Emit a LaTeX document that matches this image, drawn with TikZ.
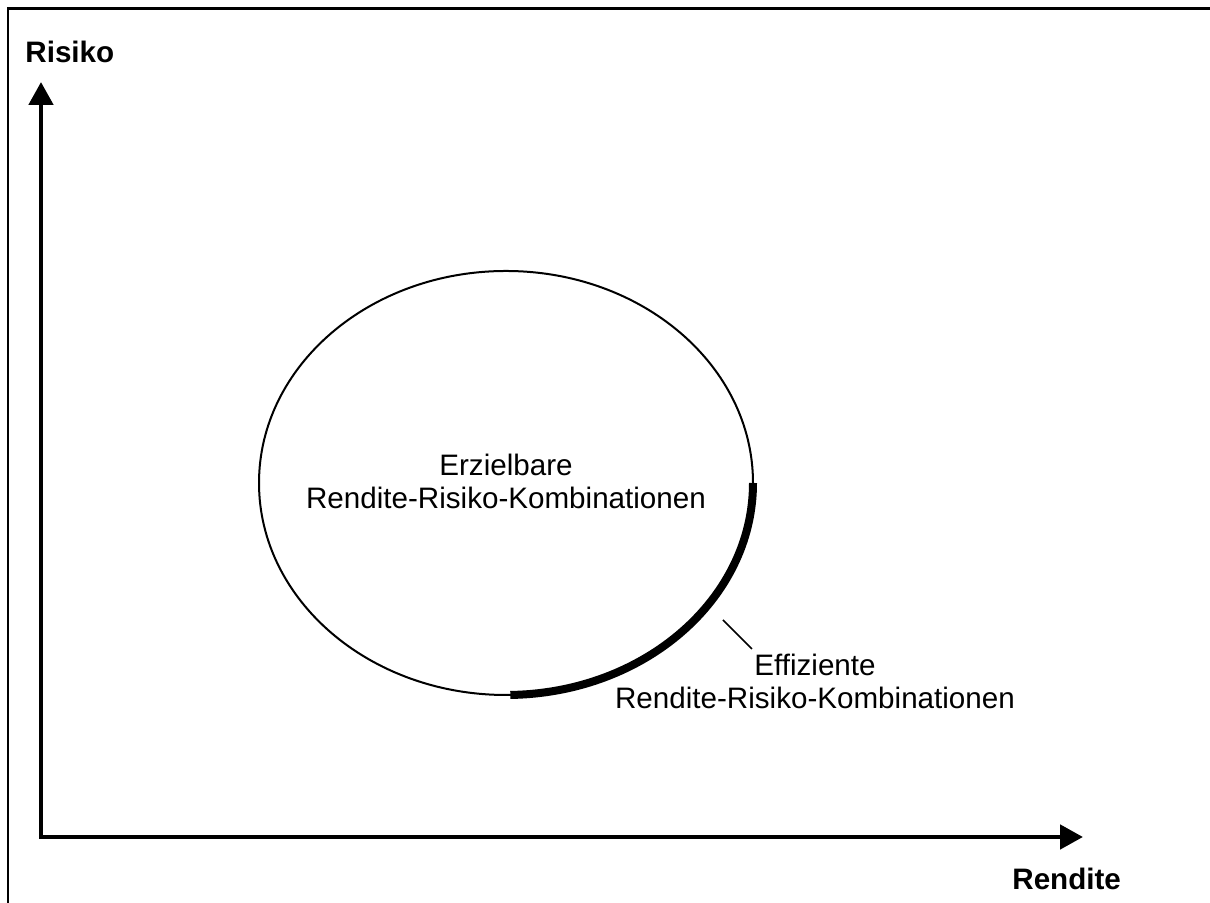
\documentclass[tikz,border=0pt]{standalone}
\usepackage{fontspec}
\setmainfont{Liberation Sans}
\usetikzlibrary{arrows.meta,shapes.geometric,positioning}
\tikzstyle{axis} = [line width=2.4pt,{Triangle[length=11.5pt,width=12pt]}-{Triangle[length=11.5pt,width=12pt]}]
\tikzstyle{lbl}  = [align=center,inner sep=0pt,font=\fontsize{14.8}{16.5}\selectfont]
\tikzstyle{menge} = [draw,ellipse,line width=1pt,inner sep=0pt,outer sep=0pt,minimum width=247pt,minimum height=212pt]

\begin{document}
\begin{tikzpicture}[x=0.5pt,y=0.5pt]
\useasboundingbox (0,0) rectangle (1210,903);
\draw[line width=1.3pt] (8,0) -- (8,894.5) -- (1210,894.5);

\coordinate (O) at (41,66);
\coordinate (Y) at (41,821);
\coordinate (X) at (1083,66);
\draw[axis] (Y) -- (O) -- (X);

\node[lbl,font=\fontsize{14.8}{16.5}\selectfont\bfseries,anchor=base west] (risiko) at (25,840) {Risiko};
\node[lbl,font=\fontsize{14.8}{16.5}\selectfont\bfseries,anchor=base west] (rendite) at (1012,13) {Rendite};

\node[menge] (M) at (506,420) {};
\node[lbl,anchor=north] (erz) at (506,449) {Erzielbare\\Rendite-Risiko-Kombinationen};

\draw[line width=4pt] (M.east) arc[start angle=0,end angle=-89,x radius=123.5pt,y radius=106pt];

\coordinate (zeiger) at (723,283);
\node[lbl,anchor=north] (eff) at (815,249) {Effiziente\\Rendite-Risiko-Kombinationen};
\draw[line width=0.8pt] (zeiger) -- ([shift={(-63,5)}]eff.north);

\end{tikzpicture}
\end{document}
